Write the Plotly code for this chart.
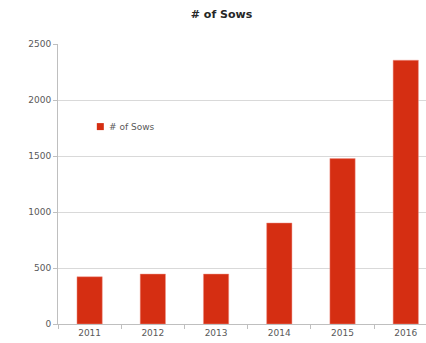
import plotly.graph_objects as go

# Sow herd size by year
years = ["2011", "2012", "2013", "2014", "2015", "2016"]
sows = [422, 446, 446, 902, 1477, 2355]
y_ticks = [0, 500, 1000, 1500, 2000, 2500]
series_name = "# of Sows"

BAR_RED = "rgb(213,46,18)"
GRID = "#d9d9d9"
TEXT = "#595959"
FONT = "DejaVu Sans"

fig = go.Figure()
fig.add_trace(go.Bar(
    x=years, y=sows, name=series_name,
    marker=dict(color=BAR_RED, line=dict(color="rgba(240,150,140,0.8)", width=0.6)),
    showlegend=False,
))

# compact legend key: small square plus label inside the plot area
key_x, key_y = 0.115, 0.705
fig.add_shape(type="rect", xref="paper", yref="paper",
              x0=key_x - 0.0095, x1=key_x + 0.0095,
              y0=key_y - 0.0125, y1=key_y + 0.0125,
              fillcolor=BAR_RED, line=dict(width=0))
fig.add_annotation(text=series_name, xref="paper", yref="paper",
                   x=key_x + 0.018, y=key_y, xanchor="left", yanchor="middle",
                   showarrow=False, font=dict(family=FONT, size=9, color=TEXT))

fig.update_layout(
    width=426, height=343,
    margin=dict(l=58, r=0, t=44, b=19),
    paper_bgcolor="white", plot_bgcolor="white",
    bargap=0.6,
    title=dict(text="<b># of Sows</b>", x=0.52, xanchor="center",
               y=1 - 14 / 343, yanchor="middle", yref="container",
               font=dict(family=FONT, size=11, color="#262626")),
    font=dict(family=FONT, size=9, color=TEXT),
    showlegend=False,
)
fig.update_xaxes(
    type="category", range=[-0.5, 5.32],
    showline=True, linecolor="#bfbfbf", linewidth=1,
    ticks="outside", tickson="boundaries", ticklen=4, tickcolor="#bfbfbf",
    showgrid=False, tickfont=dict(family=FONT, size=9, color=TEXT),
)
fig.update_yaxes(
    range=[0, 2500], tickvals=y_ticks,
    showline=True, linecolor="#bfbfbf", linewidth=1,
    ticks="outside", ticklen=4, tickcolor="#bfbfbf",
    showgrid=True, gridcolor=GRID, gridwidth=1, zeroline=False,
    tickfont=dict(family=FONT, size=9, color=TEXT),
)

fig.write_html("out.html")
